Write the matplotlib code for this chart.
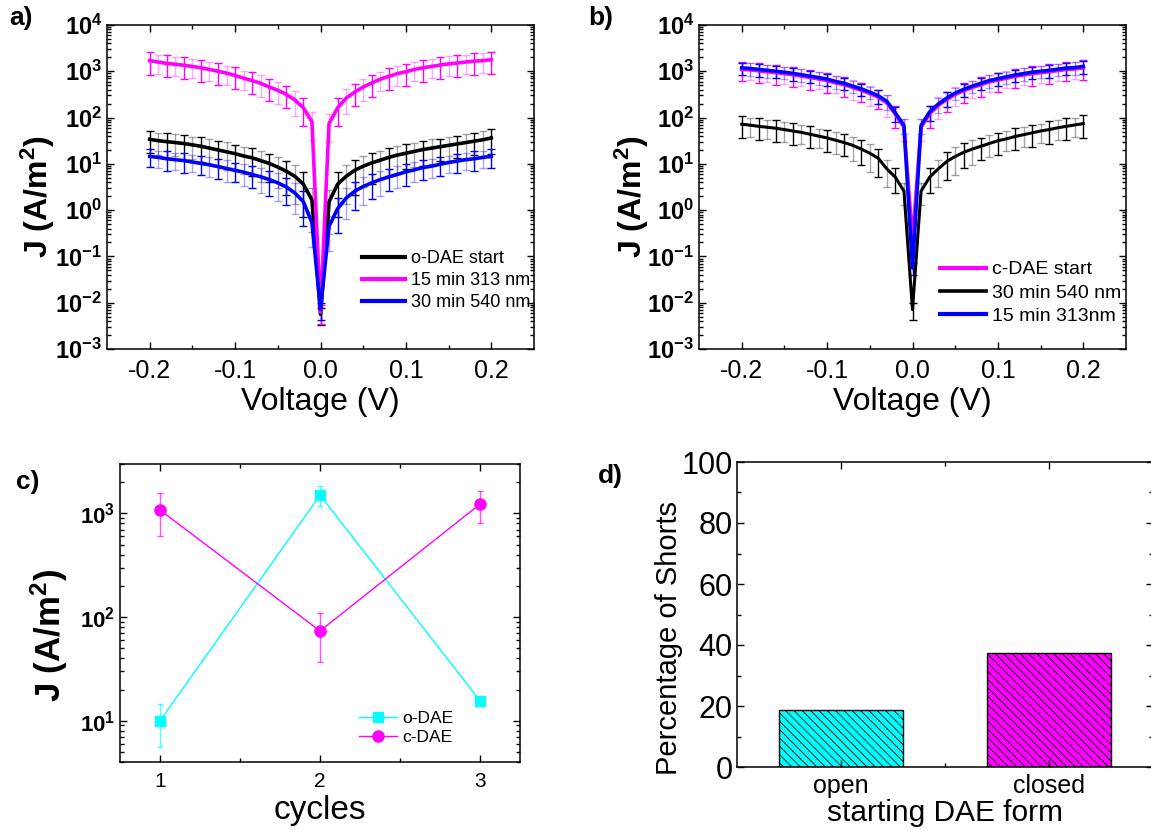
import numpy as np
import matplotlib
matplotlib.use("Agg")
import matplotlib.pyplot as plt
from matplotlib.ticker import LogLocator, NullFormatter, FixedLocator
from matplotlib.lines import Line2D

plt.rcParams['font.family'] = ['Liberation Sans', 'DejaVu Sans']
plt.rcParams['mathtext.fontset'] = 'custom'
plt.rcParams['mathtext.rm'] = 'Liberation Sans'
plt.rcParams['mathtext.bf'] = 'Liberation Sans:bold'
plt.rcParams['mathtext.it'] = 'Liberation Sans:italic'
plt.rcParams['hatch.linewidth'] = 0.6

PINK, BLUE, BLACK, CYAN = "#ff00ff", "#0000ff", "#000000", "#00ffff"

# ---- panels a/b : J-V sweeps (log10 J) ----
volt = [-0.20, -0.19, -0.18, -0.17, -0.16, -0.15, -0.14, -0.13, -0.12, -0.11,
        -0.10, -0.09, -0.08, -0.07, -0.06, -0.05, -0.04, -0.03, -0.02, -0.01,
        0.00,
        0.01, 0.02, 0.03, 0.04, 0.05, 0.06, 0.07, 0.08, 0.09, 0.10,
        0.11, 0.12, 0.13, 0.14, 0.15, 0.16, 0.17, 0.18, 0.19, 0.20]

a_open_log = [1.53, 1.50, 1.48, 1.46, 1.44, 1.41, 1.38, 1.34, 1.30, 1.26,
              1.22, 1.17, 1.13, 1.07, 1.01, 0.93, 0.84, 0.73, 0.56, 0.22,
              -2.25,
              0.18, 0.56, 0.73, 0.86, 0.95, 1.02, 1.08, 1.14, 1.19, 1.23,
              1.27, 1.31, 1.34, 1.37, 1.40, 1.43, 1.46, 1.49, 1.52, 1.56]
a_313_log = [3.23, 3.20, 3.17, 3.15, 3.13, 3.105, 3.075, 3.04, 3.00, 2.96,
             2.91, 2.85, 2.80, 2.74, 2.66, 2.59, 2.50, 2.38, 2.21, 1.91,
             -2.2,
             1.87, 2.21, 2.42, 2.55, 2.66, 2.75, 2.83, 2.89, 2.95, 2.99,
             3.04, 3.075, 3.105, 3.135, 3.16, 3.18, 3.20, 3.22, 3.23, 3.25]
a_540_log = [1.16, 1.14, 1.11, 1.09, 1.07, 1.04, 1.01, 0.98, 0.94, 0.90,
             0.86, 0.82, 0.77, 0.72, 0.66, 0.59, 0.50, 0.37, 0.18, -0.27,
             -2.15,
             -0.35, 0.03, 0.26, 0.41, 0.51, 0.59, 0.66, 0.72, 0.77, 0.83,
             0.87, 0.92, 0.95, 0.99, 1.03, 1.06, 1.09, 1.11, 1.14, 1.16]

b_closed_log = [3.04, 3.03, 3.01, 2.99, 2.97, 2.95, 2.925, 2.895, 2.865, 2.835,
                2.80, 2.75, 2.71, 2.65, 2.59, 2.52, 2.44, 2.32, 2.07, 1.79,
                -0.65,
                1.79, 2.08, 2.26, 2.39, 2.50, 2.58, 2.65, 2.71, 2.77, 2.81,
                2.85, 2.89, 2.92, 2.95, 2.97, 2.99, 3.015, 3.04, 3.05, 3.075]
b_540_log = [1.857, 1.835, 1.81, 1.79, 1.77, 1.74, 1.71, 1.68, 1.64, 1.60,
             1.56, 1.51, 1.46, 1.40, 1.32, 1.23, 1.12, 0.89, 0.71, 0.41,
             -2.15,
             0.41, 0.71, 0.89, 1.05, 1.16, 1.25, 1.32, 1.38, 1.44, 1.50,
             1.54, 1.59, 1.63, 1.67, 1.71, 1.74, 1.78, 1.81, 1.84, 1.87]
b_313_log = [3.075, 3.06, 3.04, 3.02, 3.00, 2.98, 2.955, 2.925, 2.895, 2.865,
             2.83, 2.78, 2.74, 2.68, 2.62, 2.55, 2.47, 2.35, 2.10, 1.83,
             -1.25,
             1.83, 2.12, 2.29, 2.42, 2.53, 2.61, 2.68, 2.74, 2.80, 2.84,
             2.88, 2.92, 2.95, 2.98, 3.00, 3.02, 3.045, 3.07, 3.08, 3.105]

# relative error (half-width / J) of each point
a_open_rel = [0.50, 0.50, 0.55, 0.50, 0.55, 0.50, 0.55, 0.55, 0.55, 0.60,
              0.55, 0.60, 0.60, 0.65, 0.60, 0.65, 0.70, 0.75, 0.80, 0.80,
              0.40,
              0.80, 0.80, 0.75, 0.70, 0.65, 0.65, 0.60, 0.60, 0.60, 0.55,
              0.55, 0.55, 0.55, 0.50, 0.55, 0.50, 0.55, 0.50, 0.55, 0.55]
a_313_rel = [0.50, 0.45, 0.50, 0.45, 0.50, 0.45, 0.50, 0.45, 0.50, 0.45,
             0.50, 0.45, 0.50, 0.50, 0.50, 0.50, 0.50, 0.55, 0.60, 0.60,
             0.45,
             0.60, 0.60, 0.55, 0.50, 0.50, 0.50, 0.45, 0.50, 0.45, 0.50,
             0.45, 0.50, 0.45, 0.50, 0.45, 0.50, 0.45, 0.50, 0.45, 0.50]
a_540_rel = [0.42, 0.40, 0.45, 0.40, 0.45, 0.40, 0.45, 0.45, 0.45, 0.50,
             0.45, 0.50, 0.50, 0.55, 0.55, 0.60, 0.60, 0.65, 0.70, 0.70,
             0.40,
             0.70, 0.70, 0.65, 0.60, 0.60, 0.55, 0.55, 0.50, 0.50, 0.50,
             0.45, 0.45, 0.45, 0.45, 0.40, 0.45, 0.40, 0.45, 0.40, 0.45]
b_closed_rel = [0.45, 0.40, 0.45, 0.40, 0.45, 0.40, 0.45, 0.40, 0.45, 0.40,
                0.45, 0.40, 0.45, 0.45, 0.45, 0.45, 0.45, 0.50, 0.50, 0.50,
                0.30,
                0.50, 0.50, 0.50, 0.45, 0.45, 0.45, 0.40, 0.45, 0.40, 0.45,
                0.40, 0.45, 0.40, 0.45, 0.40, 0.45, 0.40, 0.45, 0.40, 0.45]
b_540_rel = [0.50, 0.45, 0.50, 0.45, 0.50, 0.45, 0.50, 0.45, 0.50, 0.45,
             0.50, 0.50, 0.50, 0.55, 0.55, 0.60, 0.60, 0.60, 0.55, 0.50,
             0.40,
             0.50, 0.55, 0.60, 0.60, 0.60, 0.55, 0.55, 0.50, 0.50, 0.50,
             0.45, 0.50, 0.45, 0.50, 0.45, 0.50, 0.45, 0.50, 0.45, 0.50]
b_313_rel = [0.30, 0.30, 0.30, 0.30, 0.30, 0.30, 0.30, 0.30, 0.30, 0.30,
             0.30, 0.30, 0.30, 0.30, 0.30, 0.30, 0.35, 0.35, 0.35, 0.35,
             0.30,
             0.35, 0.35, 0.35, 0.35, 0.30, 0.30, 0.30, 0.30, 0.30, 0.30,
             0.30, 0.30, 0.30, 0.30, 0.30, 0.30, 0.30, 0.30, 0.30, 0.30]

# ---- panel c : J over switching cycles ----
cycles = [1, 2, 3]
c_open = [10, 1500, 15.6]
c_open_err = [4.4, 320, 0]
c_closed = [1080, 73.5, 1230]
c_closed_err = [480, 37, 430]

# ---- panel d : shorts ----
forms = ["open", "closed"]
shorts = [18.75, 37.5]

W, H = 1151, 830
fig = plt.figure(figsize=(W / 100, H / 100), dpi=100)


def box(l, t, r, b):
    return [l / W, 1 - b / H, (r - l) / W, (b - t) / H]


def style(ax):
    for s in ax.spines.values():
        s.set_linewidth(1.1)
    ax.tick_params(which='both', direction='in', top=True, right=True, width=1.0)
    ax.tick_params(which='major', length=5)
    ax.tick_params(which='minor', length=3)


def log_labels(ax, exps, size):
    ax.set_yticks([10.0 ** e for e in exps])
    ax.set_yticklabels([r'$\mathbf{10^{%d}}$' % e for e in exps], fontsize=size)
    ax.yaxis.set_minor_locator(LogLocator(base=10, subs=np.arange(2, 10)))
    ax.yaxis.set_minor_formatter(NullFormatter())


def draw_err(ax, x, J, rel, color):
    x = np.array(x); J = np.array(J); e = J * np.array(rel)
    for k, al in ((0, 1.0), (1, 0.35)):
        ax.errorbar(x[k::2], J[k::2], yerr=e[k::2], fmt='none', ecolor=color,
                    alpha=al, elinewidth=1.0, capsize=2.6, capthick=1.0, zorder=1)


def iv_panel(ax, curves, leg_xy, leg_size, letter, lxy):
    for logJ, rel, col, lab, lw in curves:
        draw_err(ax, volt, 10.0 ** np.array(logJ), rel, col)
    for logJ, rel, col, lab, lw in curves:
        ax.plot(volt, 10.0 ** np.array(logJ), color=col, lw=lw, zorder=3)
    ax.set_yscale('log')
    ax.set_ylim(1e-3, 1e4)
    ax.set_xlim(-0.25, 0.25)
    log_labels(ax, range(-3, 5), 17)
    ax.set_xticks([-0.2, -0.1, 0.0, 0.1, 0.2])
    ax.set_xticklabels(['-0.2', '-0.1', '0.0', '0.1', '0.2'], fontsize=18)
    ax.xaxis.set_minor_locator(FixedLocator([-0.15, -0.05, 0.05, 0.15]))
    style(ax)
    ax.tick_params(axis='x', pad=7)
    ax.set_xlabel('Voltage (V)', fontsize=23, labelpad=3)
    ax.set_ylabel(r'J (A/m$\mathbf{^{2}}$)', fontsize=23, fontweight='bold')
    ax.yaxis.set_label_coords(-0.117, 0.469)
    handles = [Line2D([], [], color=c[2], lw=c[4] + 0.4) for c in curves]
    ax.legend(handles, [c[3] for c in curves], loc='upper left',
              bbox_to_anchor=leg_xy, frameon=False, fontsize=leg_size,
              handlelength=2.4, handletextpad=0.3, labelspacing=0.28,
              borderpad=0, borderaxespad=0)
    fig.text(lxy[0] / W, 1 - lxy[1] / H, letter, fontsize=19, fontweight='bold',
             va='top', ha='left')


# panel a
axa = fig.add_axes(box(107, 25, 534, 349))
iv_panel(axa,
         [(a_open_log, a_open_rel, BLACK, 'o-DAE start', 2.6),
          (a_313_log, a_313_rel, PINK, '15 min 313 nm', 2.6),
          (a_540_log, a_540_rel, BLUE, '30 min 540 nm', 2.6)],
         (0.597, 0.306), 13, 'a)', (9, 6))

# panel b
axb = fig.add_axes(box(699, 25, 1126, 349))
iv_panel(axb,
         [(b_closed_log, b_closed_rel, PINK, 'c-DAE start', 2.6),
          (b_540_log, b_540_rel, BLACK, '30 min 540 nm', 2.2),
          (b_313_log, b_313_rel, BLUE, '15 min 313nm', 2.6)],
         (0.564, 0.272), 14, 'b)', (588, 6))
axb.yaxis.set_label_coords(-0.112, 0.469)

# panel c
axc = fig.add_axes(box(120, 464, 520, 762))
axc.errorbar(cycles, c_open, yerr=c_open_err, fmt='none', ecolor=CYAN,
             elinewidth=1.0, capsize=2.5, capthick=1.0, alpha=0.7)
axc.errorbar(cycles, c_closed, yerr=c_closed_err, fmt='none', ecolor=PINK,
             elinewidth=1.0, capsize=2.5, capthick=1.0, alpha=0.7)
axc.plot(cycles, c_open, '-s', color=CYAN, lw=1.0, ms=7, label='o-DAE')
axc.plot(cycles, c_closed, '-o', color=PINK, lw=1.0, ms=8, label='c-DAE')
axc.set_yscale('log')
axc.set_ylim(4, 3000)
axc.set_xlim(0.75, 3.25)
log_labels(axc, [1, 2, 3], 16)
axc.set_xticks(cycles)
axc.set_xticklabels(['1', '2', '3'], fontsize=15)
axc.xaxis.set_minor_locator(FixedLocator([1.5, 2.5]))
style(axc)
axc.tick_params(axis='x', pad=7)
axc.set_xlabel('cycles', fontsize=24, labelpad=3)
axc.set_ylabel(r'J (A/m$\mathbf{^{2}}$)', fontsize=25, fontweight='bold')
axc.yaxis.set_label_coords(-0.125, 0.423)
axc.legend(loc='upper left', bbox_to_anchor=(0.5975, 0.17), frameon=False,
           fontsize=12.5, handlelength=2.2, handletextpad=0.3, labelspacing=0.2,
           borderpad=0, borderaxespad=0)
fig.text(16 / W, 1 - 470 / H, 'c)', fontsize=19, fontweight='bold', va='top', ha='left')

# panel d
axd = fig.add_axes(box(737, 462, 1153, 767))
axd.bar([1, 2], shorts, width=0.6, color=[CYAN, PINK], edgecolor='black',
        linewidth=1.0, hatch='\\\\\\\\')
axd.set_xlim(0.5, 2.5)
axd.set_ylim(0, 100)
axd.set_xticks([1, 2])
axd.set_xticklabels(forms, fontsize=18)
axd.xaxis.set_minor_locator(FixedLocator([1.5]))
axd.set_yticks([0, 20, 40, 60, 80, 100])
axd.set_yticklabels(['0', '20', '40', '60', '80', '100'], fontsize=22)
axd.yaxis.set_minor_locator(FixedLocator([10, 30, 50, 70, 90]))
style(axd)
axd.tick_params(axis='y', pad=3)
axd.tick_params(axis='x', pad=5)
axd.set_xlabel('starting DAE form', fontsize=21.5, labelpad=1)
axd.set_ylabel('Percentage of Shorts', fontsize=21)
axd.yaxis.set_label_coords(-0.13, 0.423)
fig.text(598 / W, 1 - 464 / H, 'd)', fontsize=19, fontweight='bold', va='top', ha='left')

fig.savefig('out.png', dpi=100)
